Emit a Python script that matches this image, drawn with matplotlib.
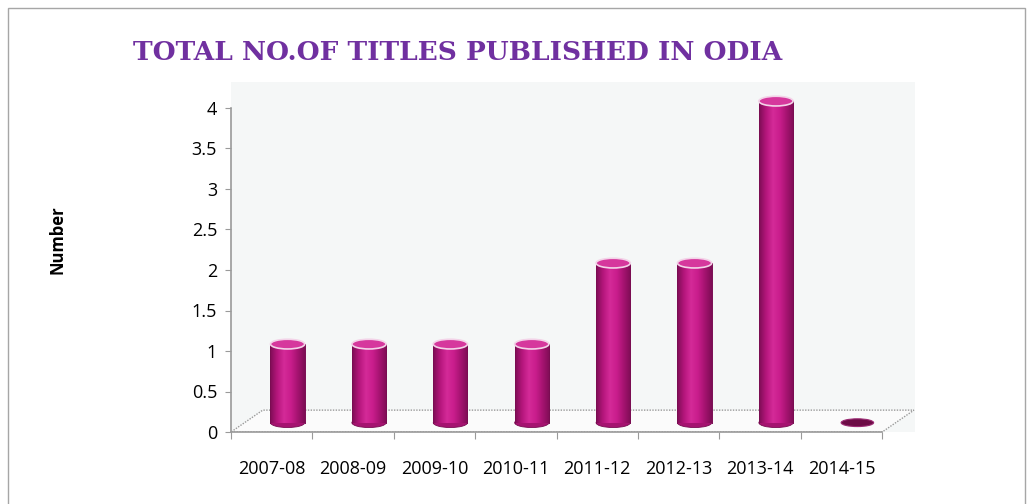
"""
Total number of Odia titles published per year - 3D-ish cylinder bar chart.
"""

import numpy as np
import matplotlib
matplotlib.use("Agg")
import matplotlib.pyplot as plt
from matplotlib.patches import Ellipse, Polygon, Rectangle
from matplotlib.colors import LinearSegmentedColormap

years = ["2007-08", "2008-09", "2009-10", "2010-11",
         "2011-12", "2012-13", "2013-14", "2014-15"]
titles = [1, 1, 1, 1, 2, 2, 4, 0]
y_ticks = [0, 0.5, 1, 1.5, 2, 2.5, 3, 3.5, 4]
y_tick_labels = ["0", "0.5", "1", "1.5", "2", "2.5", "3", "3.5", "4"]

COLORS = {
    "title": "#7030a0",
    "panel": "#f5f7f7",
    "floor": "#fbfbfb",
    "axis":  "#9a9a9a",
    "edge":  "#7a0c52",
    "top":   "#d6389d",
    "zero":  "#6d0c46",
    "frame": "#a6a6a6",
}

W, H, DPI = 1033, 504, 100
DEPTH_X, DEPTH_Y = 0.39, 0.27      # floor depth in data units
BAR_W, ELL_H = 0.42, 0.12

fig = plt.figure(figsize=(W / DPI, H / DPI), dpi=DPI, facecolor="white")

# outer frame of the chart object
fig.patches.append(Rectangle((8 / W, -0.02), 1017 / W, 1 - 8 / H + 0.02,
                             transform=fig.transFigure, fill=False,
                             edgecolor=COLORS["frame"], lw=1.0))

# axes placed so that x=-0.5 -> px 231, y=0 -> px 432
left, right, top, bottom = 231, 915, 82, 432
ax = fig.add_axes([left / W, 1 - bottom / H, (right - left) / W, (bottom - top) / H])
ax.set_facecolor(COLORS["panel"])
x_hi = -0.5 + (right - left) / 81.4
y_hi = (bottom - top) / 81.0

for s in ["top", "right"]:
    ax.spines[s].set_visible(False)
for s in ["left", "bottom"]:
    ax.spines[s].set_color(COLORS["axis"])
    ax.spines[s].set_linewidth(1.2)
ax.spines["left"].set_bounds(0, 4)
ax.spines["bottom"].set_bounds(-0.5, len(years) - 0.5)

# floor parallelogram
n = len(years)
floor = Polygon([(-0.5, 0), (n - 0.5, 0), (n - 0.5 + DEPTH_X, DEPTH_Y),
                 (-0.5 + DEPTH_X, DEPTH_Y)],
                closed=True, facecolor=COLORS["floor"], edgecolor=COLORS["axis"],
                lw=1.0, linestyle=(0, (1, 1)), zorder=1)
ax.add_patch(floor)

# cylinder shading
cmap = LinearSegmentedColormap.from_list(
    "cyl", ["#7e0d55", "#b5167c", "#d42a98", "#c91d8c", "#a51370", "#7e0d55"])
grad = np.linspace(0, 1, 64).reshape(1, -1)

xs = np.arange(n)
for x, v in zip(xs, titles):
    cx = x + DEPTH_X / 2
    base = DEPTH_Y / 2 - 0.02
    if v == 0:
        ax.add_patch(Ellipse((cx, base), BAR_W * 0.95, ELL_H * 0.8,
                             facecolor=COLORS["zero"], edgecolor="#9b2a73",
                             lw=0.8, zorder=3))
        continue
    topv = base + v - 0.03
    ax.add_patch(Ellipse((cx, base), BAR_W, ELL_H, facecolor="#a51370",
                         edgecolor=COLORS["edge"], lw=0.6, zorder=3))
    ax.imshow(grad, cmap=cmap, aspect="auto", interpolation="bilinear",
              extent=(cx - BAR_W / 2, cx + BAR_W / 2, base, topv), zorder=4)
    ax.plot([cx - BAR_W / 2] * 2, [base, topv], color=COLORS["edge"], lw=0.7, zorder=5)
    ax.plot([cx + BAR_W / 2] * 2, [base, topv], color=COLORS["edge"], lw=0.7, zorder=5)
    ax.add_patch(Ellipse((cx, topv), BAR_W, ELL_H, facecolor=COLORS["top"],
                         edgecolor="#f3d3e8", lw=1.2, zorder=6))

ax.set_xlim(-0.5, x_hi)
ax.set_ylim(0, y_hi)

ax.set_yticks(y_ticks)
ax.set_yticklabels(y_tick_labels)
ax.set_xticks(np.arange(n + 1) - 0.5)
ax.set_xticklabels([])
ax.set_xticks(xs, minor=True)
ax.set_xticklabels(years, minor=True)
ax.tick_params(axis="y", length=4, color=COLORS["axis"], labelsize=13, pad=6)
ax.tick_params(axis="x", which="major", length=5, color=COLORS["axis"])
ax.tick_params(axis="x", which="minor", length=0, labelsize=13, pad=20)
for lab in ax.get_xticklabels(minor=True) + ax.get_yticklabels():
    lab.set_fontfamily("Open Sans")

fig.text(133 / W, 1 - 53 / H, "TOTAL NO.OF TITLES PUBLISHED IN ODIA",
         color=COLORS["title"], fontsize=19, fontweight="bold",
         family="DejaVu Serif", ha="left", va="center")
fig.text(57 / W, 1 - 240 / H, "Number", rotation=90, fontsize=12,
         fontweight="bold", family="Open Sans", ha="center", va="center")

fig.savefig("out.png", dpi=DPI, facecolor="white")
